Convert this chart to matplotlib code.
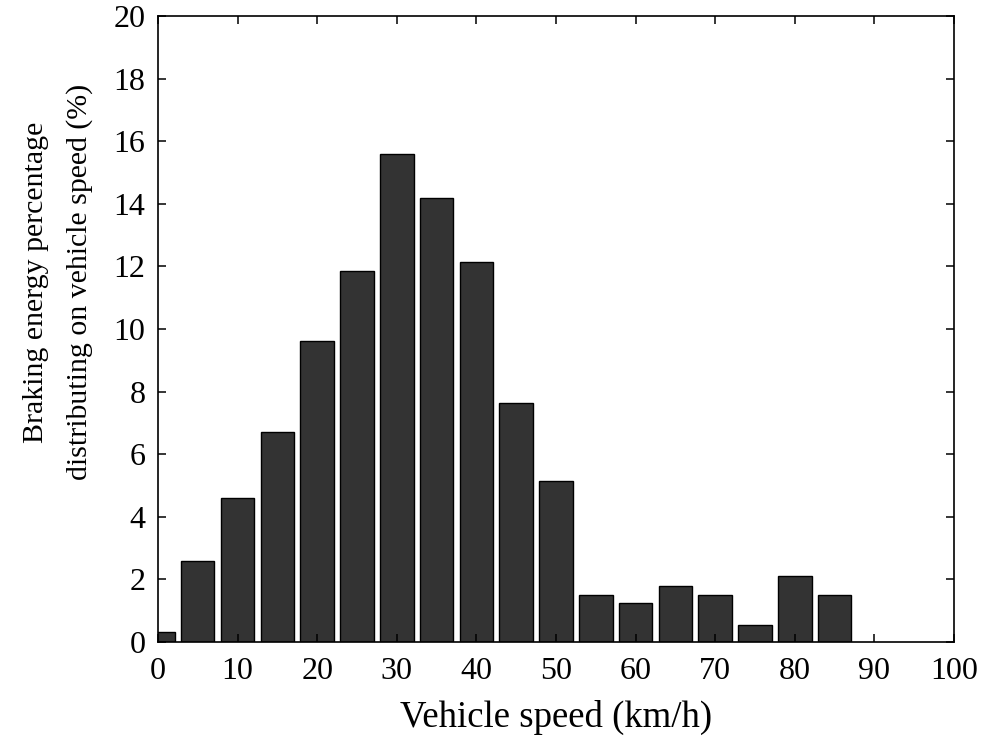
import numpy as np
import matplotlib.pyplot as plt

# braking energy share per 5 km/h speed bin
speed = [0, 5, 10, 15, 20, 25, 30, 35, 40, 45, 50, 55, 60, 65, 70, 75, 80, 85]
energy_pct = [0.32, 2.6, 4.6, 6.7, 9.62, 11.85, 15.58, 14.2, 12.15, 7.64,
              5.15, 1.49, 1.24, 1.8, 1.49, 0.54, 2.1, 1.49]

x_ticks = list(range(0, 101, 10))
y_ticks = list(range(0, 21, 2))

plt.rcParams['font.family'] = ['Liberation Serif', 'DejaVu Serif']

fig = plt.figure(figsize=(9.91, 7.49), dpi=100)
ax = fig.add_axes([0.1594, 0.1429, 0.8033, 0.8357])

ax.bar(speed, energy_pct, width=4.2, color='#333333', edgecolor='black',
       linewidth=1.0, zorder=1)

ax.set_xlim(0, 100)
ax.set_ylim(0, 20)
ax.set_xticks(x_ticks)
ax.set_yticks(y_ticks)
ax.tick_params(direction='in', top=True, right=True, length=6, width=1.1,
               labelsize=23, color='black')
ax.tick_params(axis='x', pad=11)
ax.tick_params(axis='y', pad=9)
for s in ax.spines.values():
    s.set_linewidth(1.2)
    s.set_zorder(3)

ax.set_xlabel('Vehicle speed (km/h)', fontsize=26.5, labelpad=10)
ax.set_ylabel('Braking energy percentage\ndistributing on vehicle speed (%)',
              fontsize=21.5, linespacing=1.85)
ax.yaxis.set_label_coords(-0.081, 0.575)

plt.savefig('out.png', dpi=100)
